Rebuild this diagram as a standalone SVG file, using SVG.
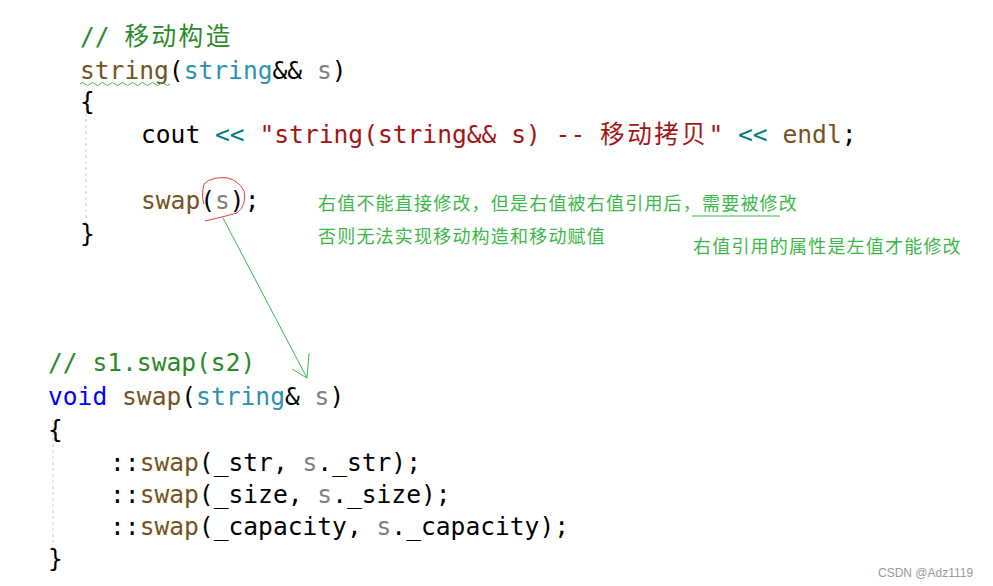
<svg xmlns="http://www.w3.org/2000/svg" width="993" height="586" viewBox="0 0 993 586">
<style>
.c{font-family:"DejaVu Sans Mono","Liberation Mono","Noto Sans CJK SC",monospace;font-size:24.6px;fill:#000}
.cm{fill:#2a8a2a}.fn{fill:#74531f}.ty{fill:#2b91af}.pa{fill:#808080}.st{fill:#a31515}.op{fill:#008080}.kw{fill:#0000ff}
.cj{letter-spacing:2.5px}
.n{font-family:"Noto Sans CJK SC","Noto Sans",sans-serif;font-size:18px;fill:#3cb74a;letter-spacing:1.2px}
.g{stroke:#ccc;stroke-dasharray:3 3;stroke-width:1}
</style>
<rect width="993" height="586" fill="#fff"/>
<line class="g" x1="86" y1="95" x2="86" y2="225"/>
<line class="g" x1="53" y1="420" x2="53" y2="550"/>
<g id="code1" class="c">
<text x="80" y="45" class="cm">// <tspan class="cj">移动构造</tspan></text>
<text x="80" y="79"><tspan class="fn">string</tspan>(<tspan class="ty">string</tspan>&amp;&amp; <tspan class="pa">s</tspan>)</text>
<text x="80" y="110">{</text>
<text x="141" y="143">cout <tspan class="op">&lt;&lt;</tspan> <tspan class="st">"string(string&amp;&amp; s) -- <tspan class="cj">移动拷贝</tspan>"</tspan> <tspan class="op">&lt;&lt;</tspan> <tspan class="fn">endl</tspan>;</text>
<text x="141" y="209"><tspan class="fn">swap</tspan>(<tspan class="pa">s</tspan>);</text>
<text x="80" y="242">}</text>
<path d="M80 84 q2.5 -3 5 0 t5 0 t5 0 t5 0 t5 0 t5 0 t5 0 t5 0 t5 0 t5 0 t5 0 t5 0 t5 0 t5 0 t5 0 t5 0 t5 0 t5 0" fill="none" stroke="#3cb74a" stroke-width="1"/>
</g>
<g id="code2" class="c">
<text x="48" y="371" class="cm">// s1.swap(s2)</text>
<text x="48" y="405"><tspan class="kw">void</tspan> <tspan class="fn">swap</tspan>(<tspan class="ty">string</tspan>&amp; <tspan class="pa">s</tspan>)</text>
<text x="48" y="438">{</text>
<text x="110" y="471">::<tspan class="fn">swap</tspan>(_str, <tspan class="pa">s</tspan>._str);</text>
<text x="110" y="503">::<tspan class="fn">swap</tspan>(_size, <tspan class="pa">s</tspan>._size);</text>
<text x="110" y="535">::<tspan class="fn">swap</tspan>(_capacity, <tspan class="pa">s</tspan>._capacity);</text>
<text x="48" y="567">}</text>
</g>
<g id="notes">
<text class="n" x="318" y="210">右值不能直接修改，但是右值被右值引用后，需要被修改</text>
<text class="n" x="318" y="243">否则无法实现移动构造和移动赋值</text>
<text class="n" x="693" y="253">右值引用的属性是左值才能修改</text>
<line x1="692" y1="216" x2="780" y2="216" stroke="#3cb74a" stroke-width="1"/>
</g>
<g id="connectors" fill="none" stroke-width="1">
<path d="M205 221 q18 -4 32 -8 q10 -8 7 -22 q-5 -10 -16 -13 q-16 -2 -24 6 q-3 12 0 20" stroke="#e83a3a"/>
<line x1="223" y1="218" x2="307" y2="378" stroke="#3cb74a"/>
<path d="M292 369 L307 378 L309 353" stroke="#3cb74a"/>
</g>
<text x="878" y="577" font-family="Liberation Sans,sans-serif" font-size="12" fill="#999">CSDN @Adz1119</text>
</svg>
